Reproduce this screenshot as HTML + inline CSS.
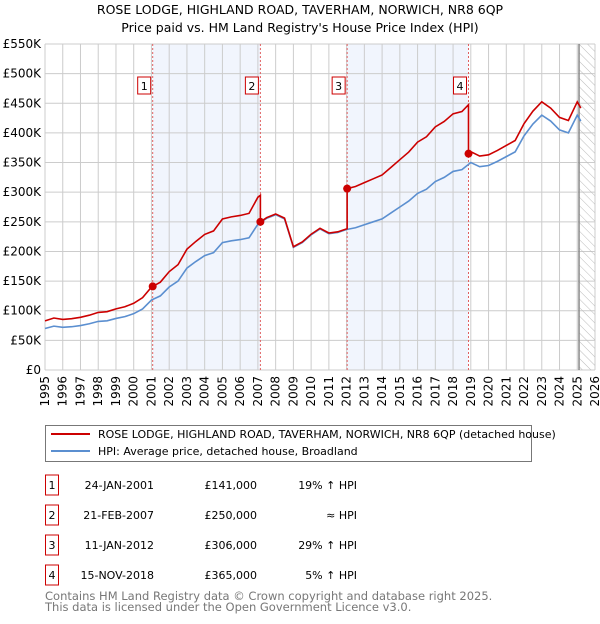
<!DOCTYPE html>
<html><head><meta charset="utf-8"><style>
body{margin:0;background:#fff;width:600px;height:620px;overflow:hidden;font-family:"DejaVu Sans","Liberation Sans",sans-serif}
svg text{font-family:"DejaVu Sans","Liberation Sans",sans-serif}
</style></head><body>
<svg id="c" width="600" height="620" xmlns="http://www.w3.org/2000/svg">
<defs><pattern id="hatch" width="6" height="6" patternUnits="userSpaceOnUse" patternTransform="rotate(-45)"><line x1="0" y1="0" x2="0" y2="6" stroke="#bbb" stroke-width="1"/></pattern></defs>
<text x="300" y="14" text-anchor="middle" font-size="12.5" fill="#000">ROSE LODGE, HIGHLAND ROAD, TAVERHAM, NORWICH, NR8 6QP</text>
<text x="300" y="32" text-anchor="middle" font-size="12.5" fill="#000">Price paid vs. HM Land Registry's House Price Index (HPI)</text>
<g id="plot"></g>
<g>
<rect x="45.5" y="425.5" width="486" height="36" fill="#fff" stroke="#777"/>
<line x1="51" y1="434" x2="90" y2="434" stroke="#cc0000" stroke-width="2"/>
<text x="98" y="438" font-size="11">ROSE LODGE, HIGHLAND ROAD, TAVERHAM, NORWICH, NR8 6QP (detached house)</text>
<line x1="51" y1="451" x2="90" y2="451" stroke="#5b8fd0" stroke-width="2"/>
<text x="98" y="455" font-size="11">HPI: Average price, detached house, Broadland</text>
</g>
<g id="table"></g>
<text x="45" y="600" font-size="11.5" fill="#777">Contains HM Land Registry data © Crown copyright and database right 2025.</text>
<text x="45" y="611" font-size="11.5" fill="#777">This data is licensed under the Open Government Licence v3.0.</text>
</svg>
<script>
const hpiYears=[1995,1995.5,1996,1996.5,1997,1997.5,1998,1998.5,1999,1999.5,2000,2000.5,2001,2001.5,2002,2002.5,2003,2003.5,2004,2004.5,2005,2005.5,2006,2006.5,2007,2007.5,2008,2008.5,2009,2009.5,2010,2010.5,2011,2011.5,2012,2012.5,2013,2013.5,2014,2014.5,2015,2015.5,2016,2016.5,2017,2017.5,2018,2018.5,2019,2019.5,2020,2020.5,2021,2021.5,2022,2022.5,2023,2023.5,2024,2024.5,2025,2025.2];
const hpiValues=[70,74,72,73,75,78,82,83,87,90,95,103,118,125,140,150,172,183,193,198,215,218,220,223,246,256,262,255,207,215,228,238,230,232,237,240,245,250,255,265,275,285,298,305,318,325,335,338,350,343,345,352,360,368,395,415,430,420,405,400,430,420];
const saleYears=[2001.07,2007.14,2012.03,2018.87];
const salePrices=[141,250,306,365];
const saleDates=["24-JAN-2001","21-FEB-2007","11-JAN-2012","15-NOV-2018"];
const saleDiffs=["19% \u2191 HPI","\u2248 HPI","29% \u2191 HPI","5% \u2191 HPI"];
const yTicks=[0,50,100,150,200,250,300,350,400,450,500,550];
const xTicks=[1995,1996,1997,1998,1999,2000,2001,2002,2003,2004,2005,2006,2007,2008,2009,2010,2011,2012,2013,2014,2015,2016,2017,2018,2019,2020,2021,2022,2023,2024,2025,2026];

const NS="http://www.w3.org/2000/svg";
const X0=45,X1=595,Y0=370,Y1=44;
const xs=y=>X0+(y-1995)/(2026-1995)*(X1-X0);
const ys=v=>Y0-v/550*(Y0-Y1);
const plot=document.getElementById('plot');
function mk(tag,attrs,parent){const e=document.createElementNS(NS,tag);for(const k in attrs)e.setAttribute(k,attrs[k]);(parent||plot).appendChild(e);return e;}
function hpiAt(t){for(let i=0;i<hpiYears.length-1;i++){if(t<=hpiYears[i+1]){const f=(t-hpiYears[i])/(hpiYears[i+1]-hpiYears[i]);return hpiValues[i]+f*(hpiValues[i+1]-hpiValues[i]);}}return hpiValues[hpiValues.length-1];}

for(let i=0;i<saleYears.length;i+=2){
 const r=mk('rect',{x:xs(saleYears[i]),y:Y1,width:xs(saleYears[i+1])-xs(saleYears[i]),height:Y0-Y1,fill:'#eef3fc',opacity:0.8});
 
 
}
yTicks.forEach(v=>{
 const l=mk('line',{x1:X0,x2:X1,y1:ys(v),y2:ys(v),stroke:'#ccc','stroke-width':1});
 
 
 const t=mk('text',{x:X0-4,y:ys(v)+4,'text-anchor':'end','font-size':12});
 t.textContent='£'+(v===0?'0':v+'K');
 
 
});
xTicks.forEach(yr=>{
 const l=mk('line',{x1:xs(yr),x2:xs(yr),y1:Y1,y2:Y0,stroke:'#ccc','stroke-width':1});
 
 
 const t=mk('text',{x:0,y:0,'text-anchor':'end','font-size':12,transform:`translate(${xs(yr)+4},${Y0+6}) rotate(-90)`});
 t.textContent=yr;
 
 
});
const hx=xs(2025.1);
const h=mk('rect',{x:hx,y:Y1,width:X1-hx,height:Y0-Y1,fill:'url(#hatch)'});


const hl=mk('line',{x1:hx,x2:hx,y1:Y1,y2:Y0,stroke:'#888','stroke-width':1.5});


saleYears.forEach((s,i)=>{
 const l=mk('line',{x1:xs(s),x2:xs(s),y1:Y1,y2:Y0,stroke:'#e06060','stroke-width':1,'stroke-dasharray':'2,2'});
 
 
 const b=mk('rect',{x:xs(s)-15,y:77,width:13,height:17,fill:'#fff',stroke:'#cc0000'});
 
 
 const t=mk('text',{x:xs(s)-8.5,y:90,'text-anchor':'middle','font-size':11});
 t.textContent=i+1;
 
 
});
const hp=hpiYears.map((y,i)=>xs(y)+','+ys(hpiValues[i])).join(' ');
const hl2=mk('polyline',{points:hp,fill:'none',stroke:'#5b8fd0','stroke-width':1.6});


let pts=[];
const ratioAt=t=>{let k=-1;for(let i=0;i<saleYears.length;i++)if(t>=saleYears[i])k=i;const kk=Math.max(k,0);return salePrices[kk]/hpiAt(saleYears[kk]);};
const times=[...hpiYears,...saleYears].sort((a,b)=>a-b);
times.forEach(t=>{
 const si=saleYears.indexOf(t);
 if(si>0){pts.push([t,hpiAt(t)*salePrices[si-1]/hpiAt(saleYears[si-1])]);}
 pts.push([t,hpiAt(t)*ratioAt(t)]);
});
const pl=mk('polyline',{points:pts.map(p=>xs(p[0])+','+ys(p[1])).join(' '),fill:'none',stroke:'#cc0000','stroke-width':1.6});


saleYears.forEach((s,i)=>{
 const c=mk('circle',{cx:xs(s),cy:ys(salePrices[i]),r:4,fill:'#cc0000'});
 
 
});
const tb=document.getElementById('table');
saleDates.forEach((d,i)=>{
 const cy=485+i*30;
 const b=mk('rect',{x:45.5,y:cy-10,width:13,height:20,fill:'#fff',stroke:'#cc0000'},tb);
 
 
 const n=mk('text',{x:52,y:cy+4,'text-anchor':'middle','font-size':11},tb);
 n.textContent=i+1;
 
 
 const t1=mk('text',{x:154,y:cy+4,'text-anchor':'end','font-size':11},tb);
 t1.textContent=d;
 
 
 const t2=mk('text',{x:257,y:cy+4,'text-anchor':'end','font-size':11},tb);
 t2.textContent='£'+salePrices[i]+',000';
 
 
 const t3=mk('text',{x:357,y:cy+4,'text-anchor':'end','font-size':11},tb);
 t3.textContent=saleDiffs[i];
 
 
});
</script>
</body></html>
